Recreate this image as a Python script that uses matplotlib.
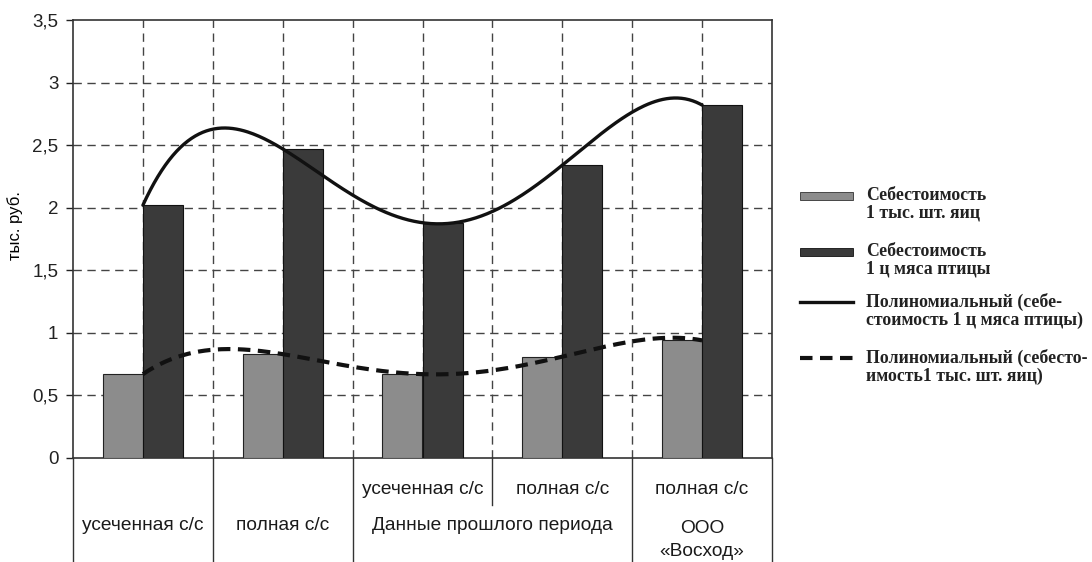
import numpy as np
import matplotlib
matplotlib.use("Agg")
import matplotlib.pyplot as plt
from matplotlib.transforms import blended_transform_factory
from matplotlib.patches import Rectangle
from matplotlib.lines import Line2D

# ---- data ----
categories = [1, 2, 3, 4, 5]
eggs_cost = [0.67, 0.83, 0.67, 0.81, 0.94]      # Себестоимость 1 тыс. шт. яиц
meat_cost = [2.02, 2.47, 1.88, 2.34, 2.82]      # Себестоимость 1 ц мяса птицы
top_labels = ["", "", "усеченная с/с", "полная с/с", "полная с/с"]
group_labels = ["усеченная с/с", "полная с/с", "Данные прошлого периода", "ООО\n«Восход»"]
group_spans = [(1, 1), (2, 2), (3, 4), (5, 5)]
y_ticks = [0, 0.5, 1, 1.5, 2, 2.5, 3, 3.5]
y_tick_labels = ["0", "0,5", "1", "1,5", "2", "2,5", "3", "3,5"]
legend_labels = [
    "Себестоимость\n1 тыс. шт. яиц",
    "Себестоимость\n1 ц мяса птицы",
    "Полиномиальный (себе-\nстоимость 1 ц мяса птицы)",
    "Полиномиальный (себесто-\nимость1 тыс. шт. яиц)",
]
y_label = "тыс. руб."

W, H = 1092, 562
fig = plt.figure(figsize=(W / 100, H / 100), dpi=100)
fig.patch.set_facecolor("white")

L, R, T, B = 73, 772, 20, 458
ax = fig.add_axes([L / W, 1 - B / H, (R - L) / W, (B - T) / H])

light = "#8c8c8c"
dark = "#3a3a3a"
bw = 0.287
x = np.array(categories, dtype=float)
ax.bar(x - bw / 2, eggs_cost, width=bw, color=light, edgecolor="#222222", linewidth=0.8, zorder=3)
ax.bar(x + bw / 2, meat_cost, width=bw, color=dark, edgecolor="#111111", linewidth=0.8, zorder=3)

# polynomial trendlines (order 4)
xs = np.linspace(x[0], x[-1], 300)
p_meat = np.polyfit(x, meat_cost, 4)
p_eggs = np.polyfit(x, eggs_cost, 4)
dash = (3.0, 1.8)
ax.plot(xs, np.polyval(p_meat, xs), color="#111111", lw=2.4, zorder=4, solid_capstyle="round")
ax.plot(xs, np.polyval(p_eggs, xs), color="#111111", lw=3.0, zorder=4, dashes=dash)

ax.set_xlim(0.5, 5.5)
ax.set_ylim(0, 3.5)
ax.set_yticks(y_ticks)
ax.set_yticklabels(y_tick_labels, fontsize=13.5, family="Liberation Sans")
ax.tick_params(axis="y", direction="out", length=5, width=1, pad=5.5, colors="#222222")
ax.set_xticks([])

# gridlines
for yv in y_ticks[1:-1]:
    ax.axhline(yv, color="#444444", lw=1.0, dashes=(6, 4), zorder=1)
for xv in np.arange(1, 5.01, 0.5):
    ax.axvline(xv, color="#444444", lw=1.0, dashes=(6, 4), zorder=1)

for s in ["left", "top", "right", "bottom"]:
    ax.spines[s].set_linewidth(1.2)
    ax.spines[s].set_color("#333333")

ax.set_ylabel(y_label, fontsize=12, family="Liberation Sans")
ax.yaxis.set_label_coords(-0.0715, 0.53)

# multi-level category labels
tr = blended_transform_factory(ax.transData, ax.transAxes)
def fy(py):
    return -(py - B) / (B - T)
for xv in [0.5, 1.5, 2.5, 4.5, 5.5]:
    ax.add_line(Line2D([xv, xv], [0, fy(H)], transform=tr, color="#333333", lw=1.0, clip_on=False))
ax.add_line(Line2D([3.5, 3.5], [0, fy(505)], transform=tr, color="#333333", lw=1.0, clip_on=False))

cat_fs = 13.8
for xv, lab in zip(categories, top_labels):
    if lab:
        ax.text(xv, fy(489), lab, transform=tr, ha="center", va="center", fontsize=cat_fs,
                family="Liberation Sans", color="#1a1a1a")
for (a, b), lab in zip(group_spans, group_labels):
    xc = (a + b) / 2
    if "\n" in lab:
        ax.text(xc, fy(540), lab, transform=tr, ha="center", va="center", fontsize=cat_fs,
                family="Liberation Sans", color="#1a1a1a", linespacing=1.5)
    else:
        ax.text(xc, fy(526), lab, transform=tr, ha="center", va="center", fontsize=cat_fs,
                family="Liberation Sans", color="#1a1a1a")

# legend (drawn in pixel coordinates)
lax = fig.add_axes([0, 0, 1, 1])
lax.set_xlim(0, W)
lax.set_ylim(H, 0)
lax.axis("off")
hx0, hx1, tx = 800, 853, 866
entries_y = [196, 252, 302, 358]
lax.add_patch(Rectangle((hx0, entries_y[0] - 4), hx1 - hx0, 8, facecolor=light, edgecolor="#333333", lw=0.6))
lax.add_patch(Rectangle((hx0, entries_y[1] - 4), hx1 - hx0, 8, facecolor=dark, edgecolor="#111111", lw=0.6))
lax.add_line(Line2D([hx0, hx1], [entries_y[2], entries_y[2]], color="#111111", lw=2.4))
lax.add_line(Line2D([hx0, hx1], [entries_y[3], entries_y[3]], color="#111111", lw=3.0, dashes=dash))
for yv, lab in zip(entries_y, legend_labels):
    lax.text(tx, yv - 9, lab, ha="left", va="top", fontsize=12.8, family="Liberation Serif",
             fontweight="bold", color="#222222", linespacing=1.05)

fig.savefig("out.png", dpi=100, facecolor="white")
